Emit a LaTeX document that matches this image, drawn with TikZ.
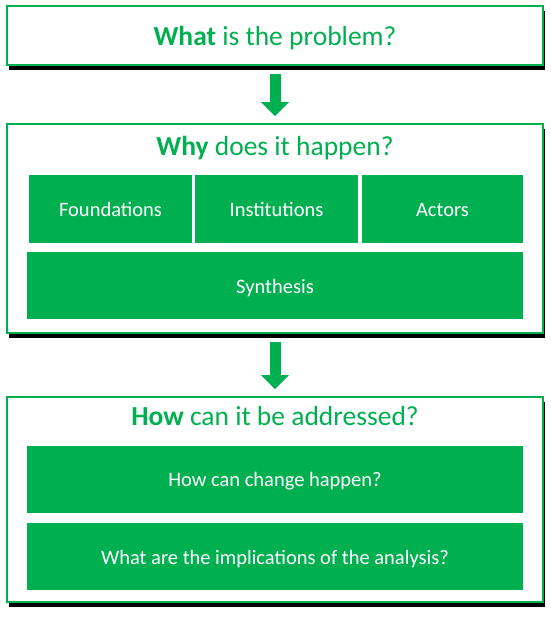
\documentclass[tikz,border=0pt]{standalone}
\usepackage{fontspec}
\setmainfont{Carlito}
\usetikzlibrary{shadows,arrows.meta}
\definecolor{sgreen}{HTML}{00B050}
\tikzset{
    outerbox/.style={rectangle, draw=sgreen, line width=1.6pt, fill=white, inner sep=0pt,
        drop shadow={shadow xshift=2pt, shadow yshift=-5pt, fill=black, opacity=1}},
    innerbox/.style={rectangle, fill=sgreen, text=white, inner sep=0pt,
        text height=16pt, text depth=1pt, font=\fontsize{20.5}{24}\selectfont},
    boxtitle/.style={text=sgreen, text height=18pt, text depth=1pt,
        font=\fontsize{27.5}{32}\selectfont},
    flowarrow/.style={draw=sgreen, line width=11pt,
        -{Triangle[width=27pt, length=14pt]}, shorten <=8pt, shorten >=7pt}
}
\begin{document}
\begin{tikzpicture}[x=1pt, y=-1pt]
    \useasboundingbox (0,0) rectangle (550,619);
    % Outer boxes
    \node[outerbox, minimum width=536pt, minimum height=59pt] (What) at (275,35.5) {};
    \node[outerbox, minimum width=536pt, minimum height=209pt] (Why) at (275,228.5) {};
    \node[outerbox, minimum width=536pt, minimum height=205pt] (How) at (275,499.5) {};
    % Titles
    \node[boxtitle] (What-title) at (275,36.5) {\textbf{What} is the problem?};
    \node[boxtitle] (Why-title) at (275,147) {\textbf{Why} does it happen?};
    \node[boxtitle] (How-title) at (275,417) {\textbf{How} can it be addressed?};
    % Why boxes
    \foreach \name/\x/\w/\i in {Foundations/110.5/163/1,Institutions/276.5/163/2,Actors/442.5/161/3} {
        \node[innerbox, minimum width=\w pt, minimum height=68pt] (Why-\i) at (\x,209) {\name};
    }
    \node[innerbox, minimum width=496pt, minimum height=67pt] (Why-4) at (275,285.5) {Synthesis};
    % How boxes
    \foreach \name/\y/\i in {How can change happen?/479/1,What are the implications of the analysis?/556.5/2} {
        \node[innerbox, minimum width=496pt, minimum height=67pt] (How-\i) at (275,\y) {\name};
    }
    % Arrows
    \draw[flowarrow] (What.south) -- (Why.north);
    \draw[flowarrow] (Why.south) -- (How.north);
\end{tikzpicture}
\end{document}
